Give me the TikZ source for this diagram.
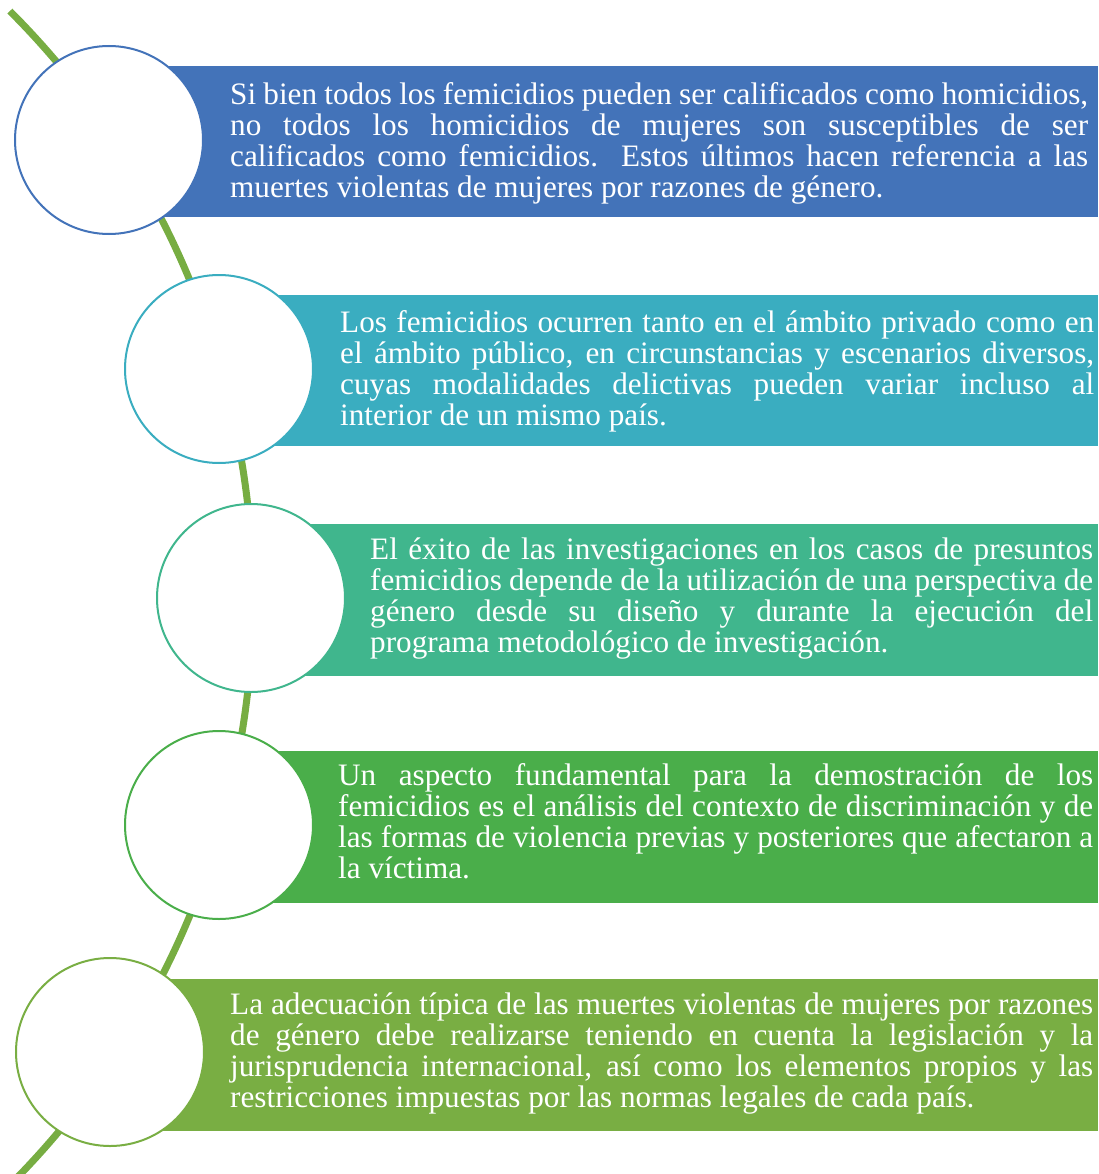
\documentclass[tikz,border=0pt]{standalone}
\usepackage{fontspec}
\setmainfont{Liberation Serif}
\definecolor{cA}{HTML}{4373B9}
\definecolor{cB}{HTML}{3AADC0}
\definecolor{cC}{HTML}{40B68D}
\definecolor{cD}{HTML}{4AAE4A}
\definecolor{cE}{HTML}{79AE43}
\definecolor{curvecol}{HTML}{77AD42}
\newcommand\jl[2]{\makebox[#1][s]{#2}}
\begin{document}
\begin{tikzpicture}[x=1pt,y=-1pt,
  bandbox/.style={rectangle, inner sep=0pt, draw=none, anchor=north west, minimum height=151pt},
  ring/.style={circle, fill=white, line width=2pt, minimum size=188pt, inner sep=0pt},
  txt/.style={inner sep=0pt, text=white, align=left, anchor=west, font=\fontsize{31.2}{31}\selectfont},
  trail/.style={line width=7pt, draw=curvecol}]
\useasboundingbox (0,0) rectangle (1098,1174);
\coordinate (cen) at (-577,598);
\begin{scope}
\clip (0,0) rectangle (1098,1174);
\draw[trail] (cen) ++(45:830pt) arc[start angle=45, end angle=-47, radius=830pt];
\end{scope}
% bands
\node[bandbox, fill=cA, minimum width=989pt] (r1) at (109,66) {};
\node[bandbox, fill=cB, minimum width=879pt] (r2) at (219,295) {};
\node[bandbox, fill=cC, minimum width=847pt, minimum height=152pt] (r3) at (251,524) {};
\node[bandbox, fill=cD, minimum width=879pt, minimum height=152pt] (r4) at (219,751) {};
\node[bandbox, fill=cE, minimum width=988pt, minimum height=152pt] (r5) at (110,979) {};
% circles
\node[ring, draw=cA] (c1) at (109,140) {};
\node[ring, draw=cB] (c2) at (219,369) {};
\node[ring, draw=cC] (c3) at (251,598) {};
\node[ring, draw=cD] (c4) at (219,825) {};
\node[ring, draw=cE] (c5) at (110,1052) {};
% texts
\node[txt] (t1) at (230,143.5) {%
\jl{858pt}{Si bien todos los femicidios pueden ser calificados como homicidios,}\\
\jl{858pt}{no todos los homicidios de mujeres son susceptibles de ser}\\
\jl{858pt}{calificados como femicidios. Estos últimos hacen referencia a las}\\
muertes violentas de mujeres por razones de género.};
\node[txt] (t2) at (340,371.5) {%
\jl{754pt}{Los femicidios ocurren tanto en el ámbito privado como en}\\
\jl{754pt}{el ámbito público, en circunstancias y escenarios diversos,}\\
\jl{754pt}{cuyas modalidades delictivas pueden variar incluso al}\\
interior de un mismo país.};
\node[txt] (t3) at (370,599) {%
\jl{723pt}{El éxito de las investigaciones en los casos de presuntos}\\
\jl{723pt}{femicidios depende de la utilización de una perspectiva de}\\
\jl{723pt}{género desde su diseño y durante la ejecución del}\\
programa metodológico de investigación.};
\node[txt] (t4) at (338,821) {%
\jl{755pt}{Un aspecto fundamental para la demostración de los}\\
\jl{755pt}{femicidios es el análisis del contexto de discriminación y de}\\
\jl{755pt}{las formas de violencia previas y posteriores que afectaron a}\\
la víctima.};
\node[txt] (t5) at (230,1054) {%
\jl{863pt}{La adecuación típica de las muertes violentas de mujeres por razones}\\
\jl{863pt}{de género debe realizarse teniendo en cuenta la legislación y la}\\
\jl{863pt}{jurisprudencia internacional, así como los elementos propios y las}\\
restricciones impuestas por las normas legales de cada país.};
\end{tikzpicture}
\end{document}
